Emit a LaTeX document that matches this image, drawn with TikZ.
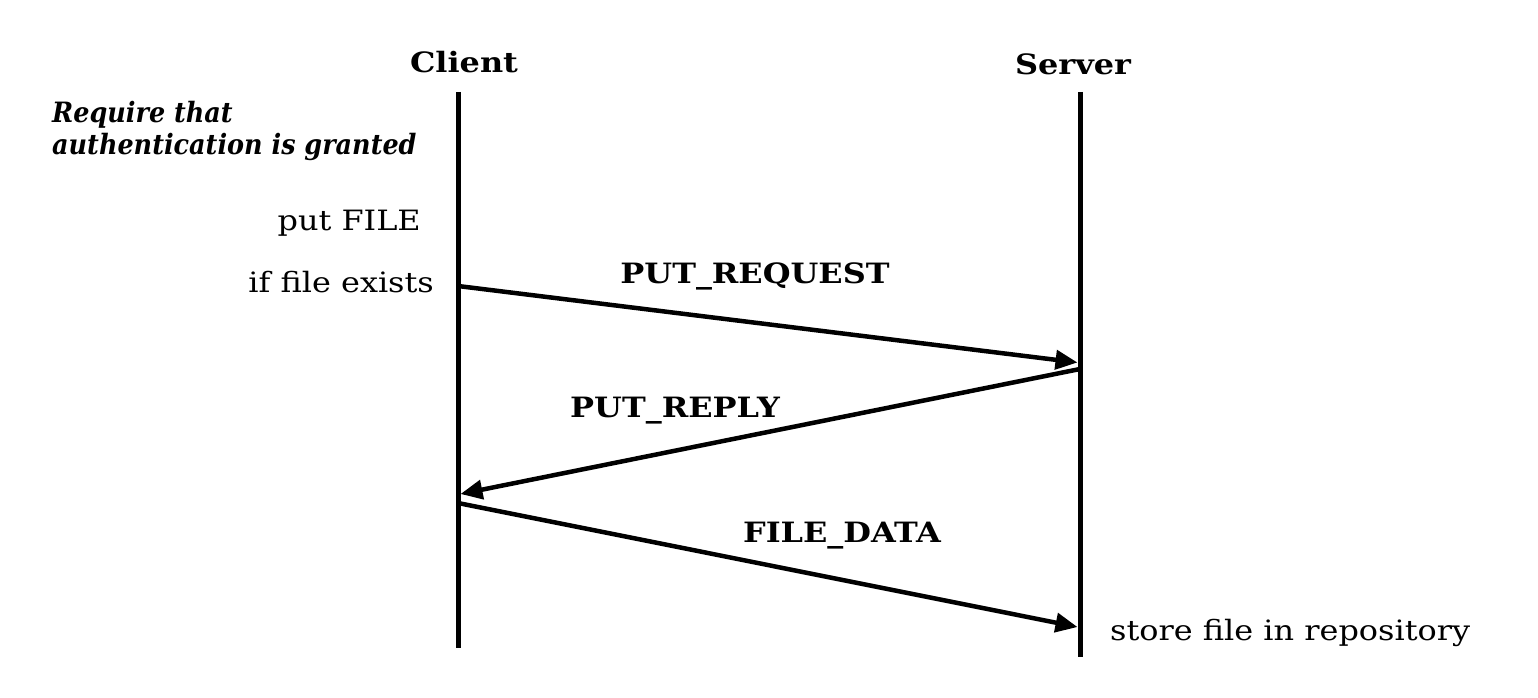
\documentclass[tikz,border=0pt]{standalone}
\usepackage{fontspec}
\usepackage{graphicx}
\setmainfont{DejaVu Serif}
\usetikzlibrary{arrows.meta}
\newcommand\wideR[1]{\scalebox{1.14}[1]{#1}}
\newcommand\wideB[1]{\scalebox{1.14}[1]{#1}}
\newcommand\wideI[1]{\scalebox{0.91}[1]{#1}}
\tikzset{
  lifeline/.style={line width=5pt},
  msg/.style={line width=4.5pt,-{Triangle[length=22pt,width=19pt]}},
  plain/.style={inner sep=0pt,font=\fontsize{28}{33}\selectfont},
  boldlbl/.style={inner sep=0pt,font=\fontsize{28}{33}\selectfont\bfseries},
  notelbl/.style={inner sep=0pt,font=\fontsize{28}{33}\selectfont\bfseries\itshape},
}
\begin{document}
\begin{tikzpicture}[x=1pt,y=-1pt]
\useasboundingbox (0,0) rectangle (1538,698);
% actors
\node[boldlbl,anchor=base] (client) at (464,73) {\wideB{Client}};
\node[boldlbl,anchor=base] (server) at (1073,75) {\wideB{Server}};
% lifelines
\coordinate (ctop) at (458,92);
\coordinate (cbot) at (458,648);
\coordinate (stop) at (1080,92);
\coordinate (sbot) at (1080,657);
\draw[lifeline] (ctop) -- (cbot);
\draw[lifeline] (stop) -- (sbot);
% message endpoints
\coordinate (c1) at (458,286);
\coordinate (s1) at (1077.5,362.5);
\coordinate (s2) at (1080,369);
\coordinate (c2) at (460.5,494);
\coordinate (c3) at (458,503);
\coordinate (s3) at (1077.5,627);
\draw[msg] (c1) -- (s1);
\draw[msg] (s2) -- (c2);
\draw[msg] (c3) -- (s3);
% message labels
\node[boldlbl,anchor=base] (l1) at (755,283) {\wideB{PUT\_REQUEST}};
\node[boldlbl,anchor=base] (l2) at (675,417) {\wideB{PUT\_REPLY}};
\node[boldlbl,anchor=base] (l3) at (842,542) {\wideB{FILE\_DATA}};
% notes
\node[notelbl,anchor=base west] (n1) at (52,123) {\wideI{Require that}};
\node[notelbl,anchor=base west] (n2) at (52,154) {\wideI{authentication is granted}};
\node[plain,anchor=base east] (n3) at (421,230) {\wideR{put FILE}};
\node[plain,anchor=base east] (n4) at (434,292) {\wideR{if file exists}};
\node[plain,anchor=base west] (n5) at (1110,640) {\wideR{store file in repository}};
\end{tikzpicture}
\end{document}
